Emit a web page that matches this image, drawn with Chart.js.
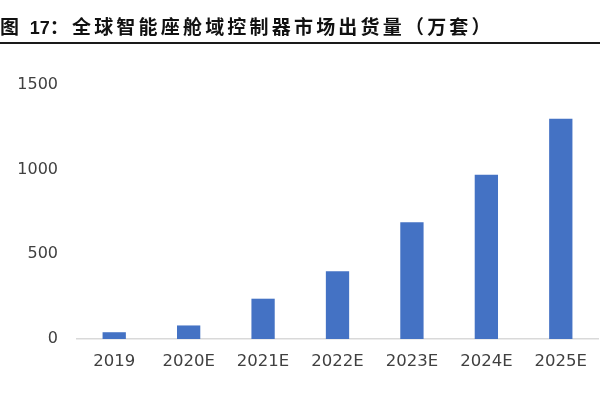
<!DOCTYPE html>
<html>
<head>
<meta charset="utf-8">
<script src="https://cdn.jsdelivr.net/npm/chart.js@4/dist/chart.umd.min.js"></script>
<style>
  body { margin: 0; background: #fff; }
  #wrap { position: relative; width: 600px; height: 399px; overflow: hidden; }
  #header {
    position: absolute; left: 0; top: 0; width: 600px; height: 42px; z-index: 3;
    border-bottom: 2px solid #1a1a1a; box-sizing: content-box;
  }
  #title {
    position: absolute; left: 0; top: 14px;
    font: bold 19px "Noto Sans CJK SC", sans-serif;
    letter-spacing: 3.2px; color: #111; white-space: nowrap; line-height: 24px;
  }
  #title .num { font: bold 18px "Liberation Sans", Arial, sans-serif; letter-spacing: 0; }
  #chartBox { position: absolute; left: 0; top: 0; width: 600px; height: 399px; z-index: 1; }
</style>
</head>
<body>
<div id="wrap">
  <div id="header">
    <div id="title">图 <span class="num">17</span>：全球智能座舱域控制器市场出货量（万套）</div>
  </div>
  <div id="chartBox"><canvas id="shipChart"></canvas></div>
</div>
<script>
// Data
const years = ['2019', '2020E', '2021E', '2022E', '2023E', '2024E', '2025E'];
const shipments = [40, 80, 238, 400, 690, 970, 1300];
const yTicks = [0, 500, 1000, 1500];

const ctx = document.getElementById('shipChart').getContext('2d');
const shipChart = new Chart(ctx, {
    type: 'bar',
    data: {
        labels: years,
        datasets: [{
            label: '出货量',
            data: shipments,
            backgroundColor: '#4472C4',
            barPercentage: 0.313,
            categoryPercentage: 1
        }]
    },
    options: {
        responsive: true,
        maintainAspectRatio: false,
        animation: false,
        layout: {
            padding: { top: 85, right: 0, bottom: 0, left: 0 }
        },
        plugins: {
            legend: { display: false },
            tooltip: { enabled: false }
        },
        scales: {
            x: {
                grid: { display: false, drawTicks: false },
                border: { display: true, color: '#d9d9d9', width: 1.5 },
                ticks: {
                    color: '#404040',
                    padding: 13,
                    maxRotation: 0,
                    font: { family: 'DejaVu Sans', size: 16.5 }
                },
                afterFit: function (scale) { scale.height = 60; }
            },
            y: {
                min: 0,
                max: 1500,
                afterBuildTicks: function (scale) {
                    scale.ticks = yTicks.map(v => ({ value: v }));
                },
                grid: { display: false, drawTicks: false },
                border: { display: false },
                ticks: {
                    color: '#404040',
                    padding: 19,
                    font: { family: 'DejaVu Sans', size: 16 },
                    callback: function (value) { return String(value); }
                },
                afterFit: function (scale) { scale.width = 77; }
            }
        }
    }
});
</script>
</body>
</html>
